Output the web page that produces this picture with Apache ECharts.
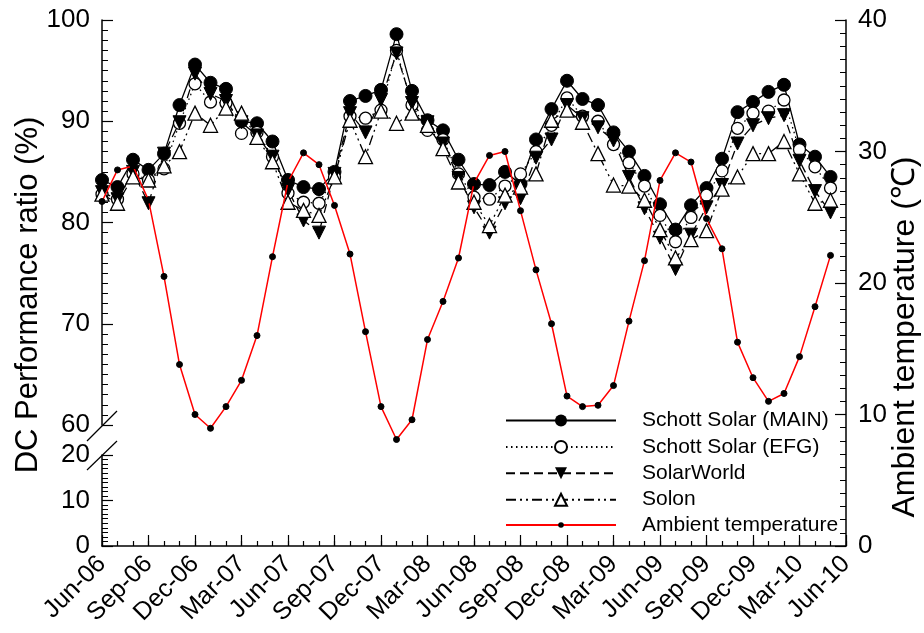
<!DOCTYPE html>
<html><head><meta charset="utf-8">
<script src="https://cdn.jsdelivr.net/npm/echarts@6/dist/echarts.min.js"></script>
<style>html,body{margin:0;padding:0;background:#fff}#c{width:924px;height:633px}</style>
</head><body><div id="c"></div><script>
const months = ['Jun-06','Jul-06','Aug-06','Sep-06','Oct-06','Nov-06','Dec-06','Jan-07','Feb-07','Mar-07','Apr-07','May-07',
 'Jun-07','Jul-07','Aug-07','Sep-07','Oct-07','Nov-07','Dec-07','Jan-08','Feb-08','Mar-08','Apr-08','May-08',
 'Jun-08','Jul-08','Aug-08','Sep-08','Oct-08','Nov-08','Dec-08','Jan-09','Feb-09','Mar-09','Apr-09','May-09',
 'Jun-09','Jul-09','Aug-09','Sep-09','Oct-09','Nov-09','Dec-09','Jan-10','Feb-10','Mar-10','Apr-10','May-10','Jun-10'];

const schottMain = [84.2,83.5,86.2,85.2,86.8,91.6,95.6,93.8,93.2,90.0,89.8,88.0,
 84.2,83.5,83.3,85.0,92.0,92.5,93.1,98.6,93.0,90.1,89.1,86.2,
 83.8,83.7,85.0,83.8,88.2,91.2,94.0,92.2,91.6,88.9,87.0,84.6,
 81.8,79.3,81.7,83.4,86.3,90.9,91.9,92.9,93.6,87.7,86.5,84.5];
const schottEFG = [82.8,82.3,84.8,84.2,85.3,89.8,93.7,91.9,91.8,88.8,88.9,86.5,
 82.9,82.0,81.9,84.5,90.5,90.3,91.1,97.0,91.6,89.1,88.2,84.8,
 82.5,82.3,83.6,84.8,87.0,89.6,92.3,90.5,90.0,87.7,85.9,83.6,
 80.7,78.1,80.5,82.7,85.1,89.3,90.8,91.0,92.1,87.2,85.5,83.4];
const solarWorld = [83.0,82.3,85.0,81.9,86.8,89.9,94.7,92.7,92.0,89.9,88.6,86.5,
 83.2,80.2,79.0,84.8,90.8,88.9,92.1,96.7,91.8,89.9,87.8,84.4,
 81.5,79.0,81.9,82.4,86.4,88.2,91.6,90.3,89.4,88.1,84.5,81.4,
 78.5,75.4,78.8,81.5,83.7,87.8,89.6,90.3,90.6,86.1,83.1,81.0];
const solon = [82.8,81.9,84.5,84.2,85.6,87.0,90.8,89.6,91.3,90.8,88.4,86.0,
 82.0,81.2,80.7,84.5,90.1,86.5,91.0,89.8,90.8,89.6,87.3,84.0,
 82.0,79.7,82.7,83.5,84.8,90.1,91.1,89.9,86.8,83.7,83.6,82.2,
 79.3,76.5,78.3,79.2,83.3,84.5,86.8,86.8,88.0,84.8,81.9,82.2];
const ambientTemp = [26.2,28.6,28.9,26.3,20.5,13.8,10.0,8.95,10.6,12.6,16.0,22.0,
 27.7,29.9,29.0,25.9,22.2,16.3,10.6,8.1,9.6,15.7,18.6,21.9,
 27.6,29.7,30.0,25.5,21.0,16.9,11.4,10.6,10.7,12.2,17.1,21.7,
 27.8,29.9,29.2,24.9,22.6,15.5,12.8,11.0,11.6,14.4,18.2,22.1];

const prUpperTicks = {min:60, max:100, interval:10};
const prLowerTicks = {min:0, max:20, interval:10};
const tempTicks = {min:0, max:40, interval:10};

const FONT = '"Liberation Sans", Arial, Helvetica, sans-serif';
const BLACK = '#000';
const axisLine = {show:true, lineStyle:{color:BLACK, width:1.5}};
function yAx(gi, pos, t){
  return {gridIndex:gi, type:'value', position:pos, min:t.min, max:t.max, interval:t.interval,
    axisLine:axisLine,
    axisTick:{show:true, inside:true, length:11, lineStyle:{color:BLACK, width:1.2}},
    minorTick:{show:true, splitNumber:10, length:6, lineStyle:{color:BLACK, width:1}},
    axisLabel:{fontSize:26, color:BLACK, fontFamily:FONT, margin:12},
    splitLine:{show:false}, minorSplitLine:{show:false}};
}
const chart = echarts.init(document.getElementById('c'));
const legendText = {fontSize:21, color:BLACK, fontFamily:FONT, padding:[0,0,0,21]};
const option = {
  animation:false,
  backgroundColor:'#fff',
  textStyle:{fontFamily:FONT},
  grid:[
    {left:102, right:78, top:20, height:526},
    {left:102, right:78, top:20, height:405},
    {left:102, right:78, top:455, height:91}
  ],
  xAxis:[
    {gridIndex:0, type:'category', data:months, boundaryGap:false,
     axisLine:{show:false},
     axisTick:{show:true, inside:true, length:5, interval:0, lineStyle:{color:BLACK, width:1.2}},
     axisLabel:{interval:2, rotate:45, fontSize:25, color:BLACK, fontFamily:FONT, margin:14},
     splitLine:{show:false}},
    {gridIndex:1, type:'category', data:months, boundaryGap:false, show:false},
    {gridIndex:2, type:'category', data:months, boundaryGap:false,
     axisLine:axisLine,
     axisTick:{show:true, inside:true, length:11, interval:2, lineStyle:{color:BLACK, width:1.2}},
     axisLabel:{show:false}, splitLine:{show:false}}
  ],
  yAxis:[
    yAx(0, 'right', tempTicks),
    yAx(1, 'left', prUpperTicks),
    yAx(2, 'left', prLowerTicks)
  ],
  legend:[
    {orient:'vertical', left:505, top:410, itemWidth:110, itemHeight:15, itemGap:5.4, padding:0,
     textStyle:legendText,
     data:['Schott Solar (MAIN)','Schott Solar (EFG)','SolarWorld','Solon']},
    {orient:'vertical', left:505, top:514.5, itemWidth:110, itemHeight:7, padding:0,
     textStyle:legendText,
     data:['Ambient temperature']}
  ],
  series:[
    {name:'Schott Solar (MAIN)', type:'line', xAxisIndex:1, yAxisIndex:1, data:schottMain, showAllSymbol:true,
     symbol:'circle', symbolSize:13, itemStyle:{color:BLACK, borderColor:BLACK},
     lineStyle:{color:BLACK, width:1.3, type:'solid'}, z:3},
    {name:'Schott Solar (EFG)', type:'line', xAxisIndex:1, yAxisIndex:1, data:schottEFG, showAllSymbol:true,
     symbol:'circle', symbolSize:12, itemStyle:{color:'#fff', borderColor:BLACK, borderWidth:1.3},
     lineStyle:{color:BLACK, width:1.3, type:[1.5,3.5]}, z:3},
    {name:'SolarWorld', type:'line', xAxisIndex:1, yAxisIndex:1, data:solarWorld, showAllSymbol:true,
     symbol:'triangle', symbolRotate:180, symbolSize:13, itemStyle:{color:BLACK, borderColor:BLACK},
     lineStyle:{color:BLACK, width:1.3, type:[9,5]}, z:3},
    {name:'Solon', type:'line', xAxisIndex:1, yAxisIndex:1, data:solon, showAllSymbol:true,
     symbol:'triangle', symbolSize:14, itemStyle:{color:'#fff', borderColor:BLACK, borderWidth:1.3},
     lineStyle:{color:BLACK, width:1.3, type:[10,4,2,4,2,4]}, z:3},
    {name:'Ambient temperature', type:'line', xAxisIndex:0, yAxisIndex:0, data:ambientTemp, showAllSymbol:true,
     symbol:'circle', symbolSize:6, itemStyle:{color:BLACK, borderColor:BLACK},
     lineStyle:{color:'#ff0000', width:1.5}, z:4}
  ],
  graphic:[
    {type:'line', shape:{x1:87, y1:441, x2:117, y2:411}, style:{stroke:BLACK, lineWidth:1.2}, z:10},
    {type:'line', shape:{x1:87, y1:470, x2:117, y2:441}, style:{stroke:BLACK, lineWidth:1.2}, z:10},
    {type:'text', x:28, y:295, rotation:Math.PI/2,
     style:{text:'DC Performance ratio (%)', fontSize:31, fontFamily:FONT, fill:BLACK, textAlign:'center', textVerticalAlign:'middle', verticalAlign:'middle'}},
    {type:'text', x:905, y:337, rotation:Math.PI/2,
     style:{text:'Ambient temperature (℃)', fontSize:32, fontFamily:FONT, fill:BLACK, textAlign:'center', textVerticalAlign:'middle', verticalAlign:'middle'}}
  ]
};
chart.setOption(option);
</script></body></html>
